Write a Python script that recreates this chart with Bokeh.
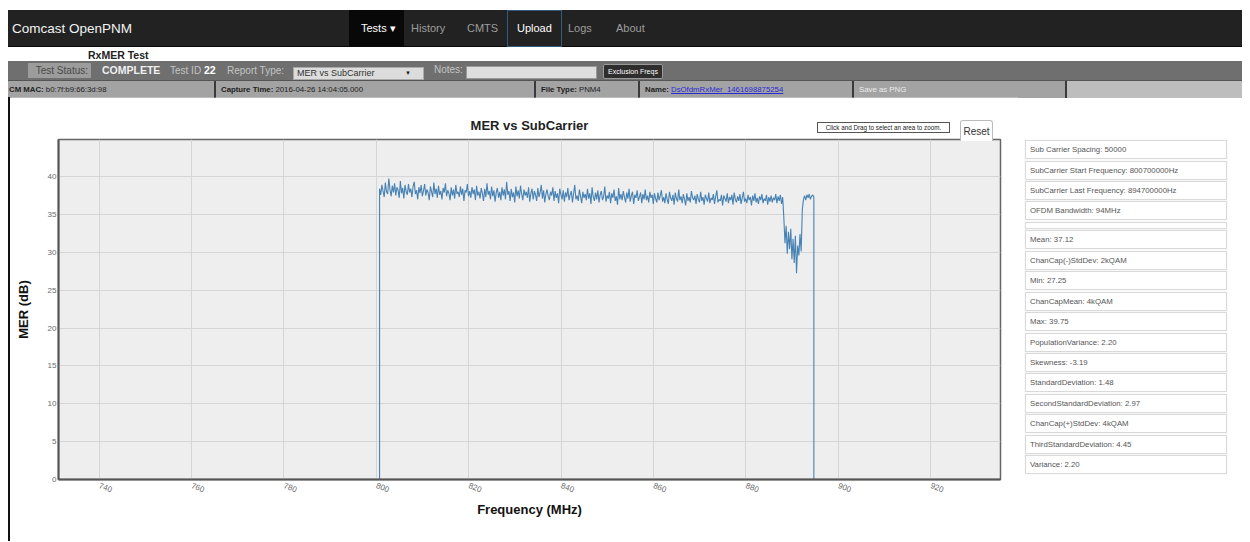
from bokeh.plotting import figure
from bokeh.models import Div, Range1d
from bokeh.layouts import column, row
from bokeh.embed import file_html
from bokeh.resources import INLINE

FONT = "'Liberation Sans', Arial, sans-serif"

# ---------------- data ----------------
start_mhz = 800.7          # SubCarrier Start Frequency
sample_step_mhz = 0.25     # sampling of the read-off trace
end_mhz = 894.7            # SubCarrier Last Frequency

mer_db = [
    # 800.70 - 820.20
    38.4, 37.6, 38.9, 38.1, 37.3, 39.2, 38.0, 37.7, 39.75, 38.3,
    37.4, 38.8, 37.9, 39.1, 37.5, 38.6, 38.2, 37.2, 39.4, 37.8,
    38.5, 37.1, 38.9, 38.0, 37.6, 39.0, 37.9, 38.4, 37.3, 38.7,
    39.3, 37.7, 38.2, 37.0, 38.6, 37.8, 38.9, 37.4, 38.1, 39.0,
    37.5, 38.3, 37.9, 36.9, 38.7, 38.0, 37.3, 39.2, 37.7, 38.4,
    37.2, 38.8, 37.6, 38.1, 37.0, 38.5, 37.9, 39.1, 37.4, 38.2,
    37.8, 36.9, 38.6, 37.5, 38.3, 37.1, 38.9, 37.7, 38.0, 37.3,
    38.7, 37.6, 38.4, 36.8, 38.2, 37.9, 39.0, 37.4, 38.1,
    # 820.45 - 840.20
    37.2, 38.6, 37.7, 38.3, 36.9, 38.8, 37.5, 38.0, 37.1, 38.5,
    37.8, 36.8, 38.4, 37.3, 39.1, 37.6, 38.1, 37.0, 38.7, 37.4,
    38.2, 36.7, 37.9, 38.5, 37.2, 38.0, 36.9, 38.6, 37.5, 38.3,
    37.0, 39.3, 37.6, 38.1, 36.8, 38.4, 37.3, 37.9, 36.6, 38.7,
    37.4, 38.2, 37.1, 38.8, 37.7, 36.9, 38.3, 37.5, 38.0, 37.2,
    38.6, 36.7, 37.8, 38.4, 37.0, 38.1, 37.6, 36.8, 38.5, 37.3,
    37.9, 38.9, 37.1, 38.2, 36.6, 37.7, 38.3, 37.4, 36.9, 38.0,
    37.5, 38.6, 36.8, 38.1, 37.2, 37.8, 36.5, 38.4, 37.6, 37.0,
    # 840.45 - 860.20
    38.2, 36.7, 37.9, 37.3, 38.5, 36.9, 37.6, 38.1, 36.6, 37.8,
    38.9, 37.0, 37.5, 36.8, 38.3, 37.4, 36.5, 38.0, 37.2, 37.7,
    36.9, 38.4, 37.1, 37.8, 36.4, 38.6, 37.3, 36.8, 37.9, 37.0,
    38.2, 36.6, 37.6, 38.1, 36.9, 37.4, 38.7, 36.7, 37.5, 37.1,
    38.0, 36.5, 37.8, 37.2, 38.3, 36.8, 37.4, 36.3, 38.5, 37.0,
    37.7, 36.9, 38.1, 37.3, 36.6, 37.9, 37.1, 38.4, 36.7, 37.5,
    38.0, 36.4, 37.6, 37.2, 38.2, 36.8, 37.3, 37.9, 36.5, 37.7,
    37.0, 38.3, 36.9, 37.5, 36.6, 38.0, 37.2, 37.6, 36.4, 37.8,
    # 860.45 - 887.95
    37.1, 36.6, 37.9, 36.9, 37.5, 38.2, 36.7, 37.3, 36.5, 37.8,
    37.0, 36.4, 38.0, 37.2, 36.8, 37.6, 36.3, 37.9, 37.1, 36.7,
    38.3, 36.9, 37.4, 36.5, 37.7, 37.0, 36.2, 37.8, 36.8, 37.3,
    36.6, 38.1, 37.2, 36.9, 37.5, 36.4, 37.7, 37.0, 36.6, 38.0,
    36.8, 37.3, 36.3, 37.6, 37.1, 36.7, 37.9, 36.5, 37.2, 36.9,
    37.7, 36.4, 37.4, 38.2, 36.6, 37.0, 36.8, 37.6, 36.2, 37.5,
    37.1, 36.7, 37.8, 36.5, 37.3, 36.9, 37.6, 36.3, 37.9, 37.0,
    36.6, 37.4, 36.8, 37.7, 36.4, 37.2, 38.0, 36.7, 37.1, 36.5,
    37.6, 36.9, 37.3, 36.2, 37.5, 36.8, 37.8, 36.6, 37.2, 36.4,
    37.4, 36.9, 37.7, 36.5, 37.1, 36.8, 37.6, 36.3, 37.3, 36.7,
    37.5, 36.6, 37.2, 36.9, 37.7, 36.5, 37.4, 36.8, 37.6, 36.4, 37.3,
    # 888.20 - 892.20 (impaired band)
    34.6, 31.2, 33.5, 29.8, 32.7, 30.4, 33.1, 29.1, 31.8, 28.6,
    32.2, 27.25, 30.9, 29.6, 32.4, 30.1, 35.6,
    # 892.45 - 894.70
    37.0, 37.5, 36.9, 37.6, 37.2, 37.7, 37.0, 37.4, 37.6, 37.3,
]

x_ticks = [740, 760, 780, 800, 820, 840, 860, 880, 900, 920]
y_ticks = [0, 5, 10, 15, 20, 25, 30, 35, 40]

nav_brand = "Comcast OpenPNM"
nav_items = ["Tests ▾", "History", "CMTS", "Upload", "Logs", "About"]
page_title = "RxMER Test"
test_status = "COMPLETE"
test_id = "22"
report_type = "MER vs SubCarrier"
cm_mac = "b0:7f:b9:66:3d:98"
capture_time = "2016-04-26 14:04:05.000"
file_type = "PNM4"
file_name = "DsOfdmRxMer_1461698875254"
zoom_hint = "Click and Drag to select an area to zoom."
reset_label = "Reset"

stats_lines = [
    "Sub Carrier Spacing: 50000",
    "SubCarrier Start Frequency: 800700000Hz",
    "SubCarrier Last Frequency: 894700000Hz",
    "OFDM Bandwidth: 94MHz",
    "",
    "Mean: 37.12",
    "ChanCap(-)StdDev: 2kQAM",
    "Min: 27.25",
    "ChanCapMean: 4kQAM",
    "Max: 39.75",
    "PopulationVariance: 2.20",
    "Skewness: -3.19",
    "StandardDeviation: 1.48",
    "SecondStandardDeviation: 2.97",
    "ChanCap(+)StdDev: 4kQAM",
    "ThirdStandardDeviation: 4.45",
    "Variance: 2.20",
]

# frequency grid of the trace (edges drawn down to 0 dB)
freq = [start_mhz] + [start_mhz + i * sample_step_mhz for i in range(len(mer_db))] + [end_mhz]
mer = [0.0] + mer_db + [0.0]

# ---------------- header (HTML) ----------------
def abs_div(left, top, width, height, style="", inner=""):
    return (f'<div style="position:absolute;left:{left}px;top:{top}px;width:{width}px;'
            f'height:{height}px;box-sizing:border-box;{style}">{inner}</div>')

def abs_text(left, top, height, text, style=""):
    return (f'<div style="position:absolute;left:{left}px;top:{top}px;height:{height}px;'
            f'line-height:{height}px;white-space:nowrap;{style}">{text}</div>')

nav_pos = [341, 403, 459, 499, 560, 608]
h = []
nav = []
nav.append(abs_text(4, 0, 37, nav_brand, "font-size:13.5px;color:#f2f2f2;"))
for name, left in zip(nav_items, nav_pos):
    if name.startswith("Tests"):
        nav.append(abs_div(left, 0, 55, 37, "background:#080808;",
                           abs_text(12, 0, 37, name, "font-size:11px;color:#ffffff;")))
    elif name == "Upload":
        nav.append(abs_div(left, 0, 55, 37, "border:1px solid #34587e;",
                           abs_text(9, 0, 35, name, "font-size:11px;color:#ffffff;")))
    else:
        nav.append(abs_text(left, 0, 37, name, "font-size:11px;color:#9d9d9d;"))
h.append(abs_div(0, 2, 1234, 37, "background:#222222;border-bottom:1px solid #080808;", "".join(nav)))

h.append(abs_text(80, 41, 13, page_title, "font-size:10.5px;font-weight:bold;color:#222;"))

sb = []
sb.append(abs_div(20, 2, 63, 15, "background:#9c9c9c;text-align:right;padding-right:3px;"
                  "font-size:10px;line-height:15px;color:#4a4a4a;", "Test Status:"))
sb.append(abs_text(94, 0, 19, test_status, "font-size:10.5px;font-weight:bold;color:#f0f0f0;"))
sb.append(abs_text(162, 0, 19, "Test ID", "font-size:10px;color:#c4c4c4;"))
sb.append(abs_text(196, 0, 19, test_id, "font-size:10.5px;font-weight:bold;color:#ffffff;"))
sb.append(abs_text(219, 0, 19, "Report Type:", "font-size:10px;color:#c4c4c4;"))
sb.append(abs_div(285, 6, 131, 13, "background:#dcdcdc;border:1px solid #aaa;",
                  abs_text(3, 0, 11, report_type, "font-size:9px;color:#333;")
                  + abs_text(111, 0, 11, "▼", "font-size:6px;color:#222;")))
sb.append(abs_text(426, 0, 17, "Notes:", "font-size:10px;color:#c4c4c4;"))
sb.append(abs_div(458, 5, 131, 13, "background:#dedede;border:1px solid #999;"))
sb.append(abs_div(595, 3, 60, 15, "background:#2e2e2e;border:1px solid #9a9a9a;border-radius:2px;"
                  "text-align:center;font-size:7px;line-height:13px;color:#fff;", "Exclusion Freqs"))
h.append(abs_div(0, 53, 1234, 19, "background:#6f6f6f;", "".join(sb)))

cells = [
    (0, 208, f"<b>CM MAC:</b> {cm_mac}", 1, "#a3a3a3"),
    (208, 320, f"<b>Capture Time:</b> {capture_time}", 5, "#a3a3a3"),
    (528, 104, f"<b>File Type:</b> {file_type}", 5, "#a3a3a3"),
    (632, 214, f'<b>Name:</b> <span style="color:#2b2bd6;text-decoration:underline;">{file_name}</span>', 5, "#a3a3a3"),
    (846, 213, '<span style="color:#ececec;">Save as PNG</span>', 5, "#a3a3a3"),
    (1059, 175, "", 5, "#bdbdbd"),
]
ir = []
for left, width, txt, pad, bg in cells:
    border = "border-right:2px solid #3a3a3a;" if bg != "#bdbdbd" else ""
    ir.append(abs_div(left, 0, width, 17, f"background:{bg};{border}padding-left:{pad}px;"
                      "font-size:7.8px;line-height:17px;color:#222;white-space:nowrap;overflow:hidden;", txt))
h.append(abs_div(0, 72, 1234, 17, "border-top:1px solid #555;", "".join(ir)))

header_html = (f'<div style="position:relative;width:1234px;height:89px;font-family:{FONT};">'
               + "".join(h) + "</div>")
header = Div(text=header_html, width=1234, height=89, margin=0)

ROW_H = 444

# ---------------- stats panel (HTML) + zoom controls overlay ----------------
sp = []
top = 43.0
for line in stats_lines:
    bh = 19 if line else 7
    sp.append(abs_div(7, round(top, 1), 202, bh,
                      "background:#fff;border:1px solid #d9d9d9;box-shadow:0 0 1px #e6e6e6;"
                      "padding-left:4px;font-size:7.8px;line-height:17px;color:#555;white-space:nowrap;",
                      line))
    top += bh + 1.45
sp.append(abs_div(-201, 25, 133, 11, "background:#fff;border:1px solid #555;text-align:center;"
                  "font-size:6.3px;line-height:9px;color:#222;white-space:nowrap;z-index:5;", zoom_hint))
sp.append(abs_div(-58, 23, 33, 21, "background:#fff;border:1px solid #bbb;border-bottom:none;"
                  "border-radius:3px 3px 0 0;text-align:center;font-size:10px;line-height:21px;"
                  "color:#333;z-index:5;", reset_label))
stats_html = (f'<div style="position:relative;width:224px;height:{ROW_H}px;font-family:{FONT};overflow:visible;">'
              + "".join(sp) + "</div>")
stats = Div(text=stats_html, width=224, height=ROW_H, margin=0,
            styles={"overflow": "visible", "z-index": "5"})

left_rule = Div(text=f'<div style="width:2px;height:{ROW_H}px;background:#111;"></div>',
                width=2, height=ROW_H, margin=0)

# ---------------- chart ----------------
p = figure(width=1008, height=ROW_H, output_backend="svg", toolbar_location=None,
           x_range=Range1d(731.2, 935.1), y_range=Range1d(0, 44.9),
           min_border_left=48, min_border_right=18, min_border_top=42, min_border_bottom=62,
           background_fill_color="#eeeeee", border_fill_color="white", margin=0)
p.line(freq, mer, line_color="#4682b4", line_width=1.1)

p.title.text = "MER vs SubCarrier"
p.title.align = "center"
p.title.text_font = "Liberation Sans"
p.title.text_font_size = "13px"
p.title.text_font_style = "bold"
p.title.text_color = "#222"
p.title.standoff = 13

p.outline_line_color = "#666"
p.outline_line_width = 1.5
p.grid.grid_line_color = "#d5d5d5"
p.grid.grid_line_width = 1
p.xaxis.ticker = x_ticks
p.yaxis.ticker = y_ticks
p.xaxis.axis_label = "Frequency (MHz)"
p.yaxis.axis_label = "MER (dB)"
p.xaxis.major_label_orientation = -0.35
for ax in (p.xaxis[0], p.yaxis[0]):
    ax.axis_line_color = "#555"
    ax.axis_line_width = 2
    ax.major_tick_out = 0
    ax.major_tick_in = 0
    ax.minor_tick_line_color = None
    ax.major_label_text_font = "Liberation Sans"
    ax.major_label_text_font_size = "8px"
    ax.major_label_text_color = "#6a6a6a"
    ax.axis_label_text_font = "Liberation Sans"
    ax.axis_label_text_font_size = "13px"
    ax.axis_label_text_font_style = "bold"
    ax.axis_label_text_color = "#111"
p.yaxis.major_label_standoff = 2
p.yaxis.axis_label_standoff = 14
p.xaxis.major_label_standoff = 6
p.xaxis.axis_label_standoff = 4

layout = column(header, row(left_rule, p, stats, spacing=0, margin=0),
                spacing=0, margin=(8, 8, 0, 8))
open("out.html", "w").write(file_html(layout, INLINE))
